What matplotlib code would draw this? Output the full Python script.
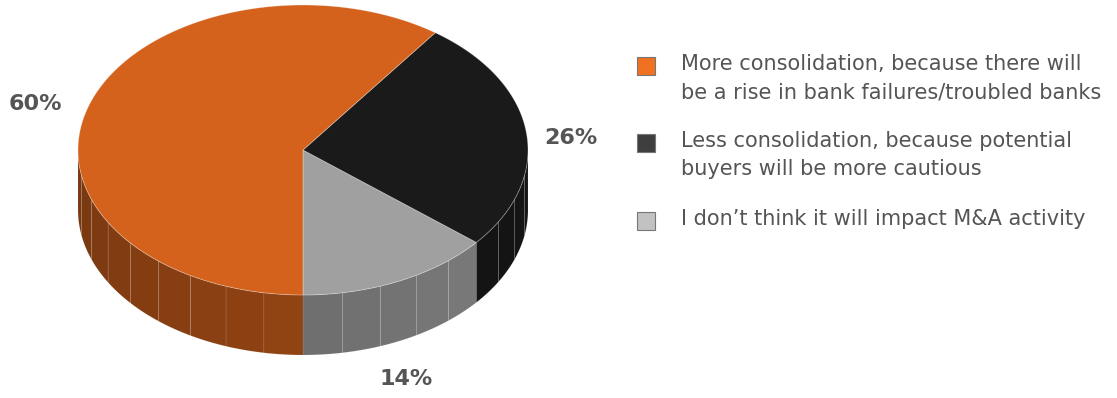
import numpy as np
import matplotlib.pyplot as plt
from matplotlib.patches import Polygon, Rectangle
from matplotlib.colors import to_rgb

# Survey answers, legend order
answers = [
    "More consolidation, because there will\nbe a rise in bank failures/troubled banks",
    "Less consolidation, because potential\nbuyers will be more cautious",
    "I don\u2019t think it will impact M&A activity",
]
shares = [60, 26, 14]
pct_labels = ["60%", "26%", "14%"]

top_colors = ["#D4621C", "#1A1A1A", "#A0A0A0"]
key_colors = ["#F07122", "#3E3E3E", "#C2C2C2"]
text_color = "#555555"

# pie geometry in pixel units
cx, cy = 303, 150
rx, ry = 225, 145
depth = 60


def rim(theta_deg):
    t = np.radians(theta_deg)
    return cx + rx * np.cos(t), cy - ry * np.sin(t)


fig = plt.figure(figsize=(11.17, 3.98), dpi=100)
ax = fig.add_axes([0, 0, 1, 1])
ax.set_xlim(0, 1117)
ax.set_ylim(398, 0)
ax.axis("off")

# slices run counter-clockwise from 6 o'clock: last answer first
spans = []
start = 270.0
for i in [2, 1, 0]:
    end = start + shares[i] * 3.6
    spans.append((i, start, end))
    start = end

# side wall: only the front half of the rim is visible
for i, a0, a1 in spans:
    base = np.array(to_rgb(top_colors[i]))
    for lo, hi in [(180, 360), (540, 720)]:
        s0, s1 = max(a0, lo), min(a1, hi)
        if s1 <= s0:
            continue
        n_fac = max(1, int(np.ceil((s1 - s0) / 11)))
        edges = np.linspace(s0, s1, n_fac + 1)
        for f0, f1 in zip(edges[:-1], edges[1:]):
            th = np.linspace(f0, f1, 20)
            xs, ys = rim(th)
            pts = np.column_stack([np.r_[xs, xs[::-1]],
                                   np.r_[ys, ys[::-1] + depth]])
            mid = ((f0 + f1) / 2) % 360
            shade = 0.56 + 0.0014 * (mid - 180)
            ax.add_patch(Polygon(pts, closed=True,
                                 facecolor=np.clip(base * shade, 0, 1),
                                 edgecolor=(1, 1, 1, 0.12), lw=0.5))

# top face
for i, a0, a1 in spans:
    th = np.linspace(a0, a1, 200)
    xs, ys = rim(th)
    pts = np.column_stack([np.r_[cx, xs], np.r_[cy, ys]])
    ax.add_patch(Polygon(pts, closed=True, facecolor=top_colors[i],
                         edgecolor=(1, 1, 1, 0.35), lw=0.6))

# percentage labels around the pie
label_nudge = {0: (-11, 8), 1: (0, 10), 2: (-12, 12)}
for i, a0, a1 in spans:
    mid = (a0 + a1) / 2
    t = np.radians(mid)
    lx = cx + rx * 1.2 * np.cos(t)
    ly = cy - ry * 1.2 * np.sin(t)
    if np.sin(t) < 0:
        ly += depth
    dx, dy = label_nudge[i]
    ax.text(lx + dx, ly + dy, pct_labels[i], ha="center", va="center",
            fontsize=16, fontweight="bold", color=text_color)

# legend
key_y = [66, 143, 221]
for i, (txt, ky) in enumerate(zip(answers, key_y)):
    ax.add_patch(Rectangle((637, ky - 9), 18, 18, facecolor=key_colors[i],
                           edgecolor="#777777", lw=0.8))
    ax.text(681, ky - 12, txt, ha="left", va="top", fontsize=15,
            family="DejaVu Sans", color=text_color, linespacing=1.5)

fig.savefig("out.png", dpi=100)
